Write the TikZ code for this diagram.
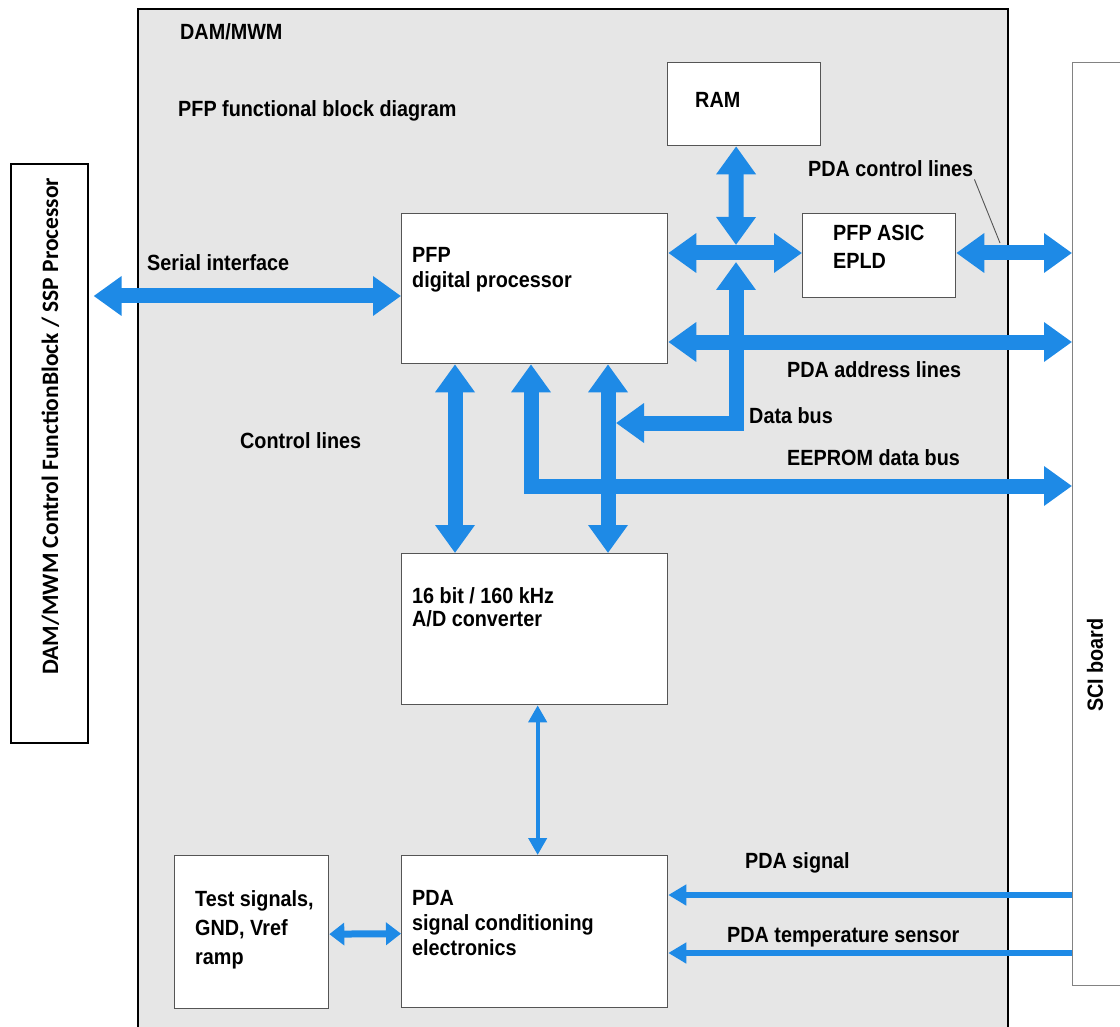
\documentclass[tikz,border=0pt]{standalone}
\usepackage{fontspec}
\newfontfamily\condfont{Liberation Sans}[FakeStretch=0.9]
\newfontfamily\sidefont{Carlito}
\usetikzlibrary{arrows.meta,positioning,calc}
\definecolor{sigblue}{RGB}{30,138,230}
\definecolor{panelgray}{RGB}{230,230,230}
\definecolor{edgegray}{RGB}{85,85,85}
\definecolor{sciedge}{RGB}{130,130,130}
\tikzset{
  lbl/.style={font=\condfont\bfseries\fontsize{22}{25}\selectfont,text=black,inner sep=0pt,anchor=base west},
  boxtxt/.style={lbl,anchor=north west,align=left},
  sidetxt/.style={font=\sidefont\bfseries\fontsize{23.5}{26}\selectfont,text=black,inner sep=0pt},
  panel/.style={draw=black,fill=panelgray,line width=2pt,anchor=north west,inner sep=0pt},
  sidebox/.style={draw=black,fill=white,line width=1.6pt,anchor=north west,inner sep=0pt},
  scibox/.style={draw=sciedge,fill=white,line width=1.4pt,anchor=north west,inner sep=0pt},
  blk/.style={draw=edgegray,fill=white,line width=1.3pt,anchor=north west,inner sep=0pt},
  bus/.style={draw=sigblue,line width=15pt,{Triangle[length=28pt,width=38pt]}-{Triangle[length=28pt,width=38pt]}},
  thinarr/.style={draw=sigblue,line width=4pt,{Triangle[length=17pt,width=18pt]}-{Triangle[length=17pt,width=18pt]}},
  midarr/.style={draw=sigblue,line width=7pt,{Triangle[length=15pt,width=22pt]}-{Triangle[length=15pt,width=22pt]}},
  sigarr/.style={draw=sigblue,line width=6pt,-{Triangle[length=18pt,width=20pt]}},
  leader/.style={draw=edgegray,line width=0.9pt}
}
\begin{document}
\begin{tikzpicture}[x=1pt,y=-1pt]
\useasboundingbox (0,0) rectangle (1120,1027);
% frames
\node[panel,minimum width=870pt,minimum height=1040pt] (dam) at (137,8) {};
\node[sidebox,minimum width=77pt,minimum height=579pt] (ctrl) at (10,163) {};
\node[scibox,minimum width=100pt,minimum height=923pt] (sci) at (1072,62) {};
% blocks
\node[blk,minimum width=153pt,minimum height=83pt] (ram) at (667,62) {};
\node[blk,minimum width=266pt,minimum height=150pt] (pfp) at (401,213) {};
\node[blk,minimum width=153pt,minimum height=84pt] (asic) at (802,213) {};
\node[blk,minimum width=266pt,minimum height=151pt] (adc) at (401,553) {};
\node[blk,minimum width=154pt,minimum height=153pt] (test) at (174,855) {};
\node[blk,minimum width=266pt,minimum height=152pt] (pda) at (401,855) {};
% buses
\coordinate (hub) at (736,253);
\coordinate (dbtip) at (616,423);
\coordinate (cline) at (1000,243);
\draw[bus] ([xshift=5pt]ctrl.east |- 0,296) -- (pfp.west |- 0,296);
\draw[bus] ([xshift=-8pt]ram.south) -- ([yshift=8pt]hub);
\draw[bus] (pfp.east |- hub) -- (asic.west |- hub);
\draw[bus] ([yshift=-9pt]hub) |- (dbtip);
\draw[bus] (asic.east |- hub) -- (sci.west |- hub);
\draw[bus] (pfp.east |- 0,342) -- (sci.west |- 0,342);
\draw[bus] ([xshift=54pt]pfp.south west) -- ([xshift=54pt]adc.north west);
\draw[bus] ([xshift=207pt]pfp.south west) -- ([xshift=207pt]adc.north west);
\draw[bus] ([xshift=130pt]pfp.south west) |- (sci.west |- 0,486);
\draw[thinarr] ([xshift=3pt]adc.south) -- ([xshift=3pt]pda.north);
\draw[midarr] ([yshift=-2pt]test.east) -- ([yshift=-2pt]pda.west);
\draw[sigarr] (sci.west |- 0,895) -- (pda.east |- 0,895);
\draw[sigarr] (sci.west |- 0,953) -- (pda.east |- 0,953);
% labels
\node[lbl] (damlbl) at (180,40) {DAM/MWM};
\node[lbl] (titlelbl) at (178,117) {PFP functional block diagram};
\node[lbl] (ramlbl) at (695,108) {RAM};
\node[lbl] (ctllbl) at (808,177) {PDA control lines};
\draw[leader] ([xshift=1pt,yshift=-2pt]ctllbl.south east) -- (cline);
\node[lbl] (serlbl) at (147,271) {Serial interface};
\node[lbl] (addrlbl) at (787,377) {PDA address lines};
\node[lbl] (dblbl) at (749,423) {Data bus};
\node[lbl] (cllbl) at (240,448) {Control lines};
\node[lbl] (eelbl) at (787,465) {EEPROM data bus};
\node[lbl] (siglbl) at (745,868) {PDA signal};
\node[lbl] (templbl) at (727,942) {PDA temperature sensor};
\node[boxtxt] (pfptxt) at (412,247) {PFP\\digital processor};
\node[boxtxt] (asictxt) at (833,225) {PFP ASIC\\[3pt]EPLD};
\node[boxtxt] (adctxt) at (412,587) {16 bit / 160 kHz\\[-2pt]A/D converter};
\node[boxtxt] (testtxt) at (195,890) {Test signals,\\[4pt]GND, Vref\\[4pt]ramp};
\node[boxtxt] (pdatxt) at (412,890) {PDA\\signal conditioning\\electronics};
\node[sidetxt,rotate=90] (ctrltxt) at ([xshift=1pt,yshift=27pt]ctrl.center) {DAM/MWM Control FunctionBlock / SSP Processor};
\node[lbl,anchor=center,rotate=90] (scitxt) at (1095,665) {SCI board};
\end{tikzpicture}
\end{document}
